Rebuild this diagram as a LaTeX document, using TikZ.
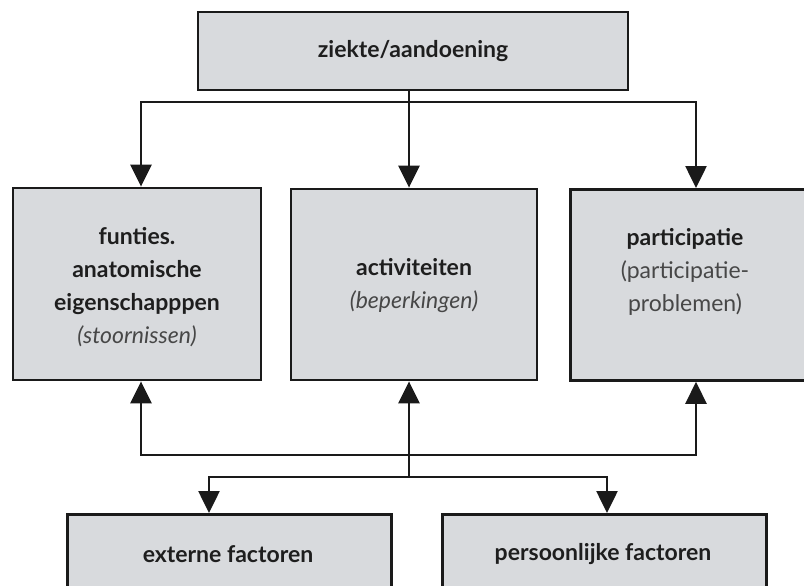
\documentclass[tikz,border=0pt]{standalone}
\usepackage{fontspec}
\setmainfont{Lato}
\usetikzlibrary{arrows.meta,calc}
\definecolor{boxfill}{HTML}{D8DADD}
\definecolor{boxline}{HTML}{1A1A1A}
\definecolor{txt}{HTML}{1E1E1E}
\definecolor{ital}{HTML}{474747}
\begin{document}
\begin{tikzpicture}[x=1pt,y=-1pt,
  box/.style={draw=boxline,line width=2.8pt,fill=boxfill},
  lbl/.style={align=center,text=txt,font=\fontsize{23}{33}\selectfont},
  conn/.style={draw=boxline,line width=2.6pt},
  arr/.style={conn,-{Triangle[length=22pt,width=21pt]}}]
\useasboundingbox (0,0) rectangle (804,586);
% boxes
\node[box,minimum width=430pt,minimum height=78pt] (top) at (413,51) {};
\node[box,minimum width=248pt,minimum height=192pt] (f) at (137,284) {};
\node[box,minimum width=246pt,minimum height=191pt] (a) at (414,284.5) {};
\node[box,minimum width=270pt,minimum height=191pt,anchor=north west] (p) at (569,188) {};
\node[box,minimum width=324pt,minimum height=100pt,anchor=north west] (ext) at (66,513) {};
\node[box,minimum width=324pt,minimum height=100pt,anchor=north west] (pers) at (441,513) {};
% texts
\node[lbl] (ttop) at (top.center) {\textbf{ziekte/aandoening}};
\node[lbl] (tf) at (137,287) {\textbf{funties.}\\\textbf{anatomische}\\\textbf{eigenschapppen}\\{\color{ital}\itshape(stoornissen)}};
\node[lbl] (ta) at (414,286) {\textbf{activiteiten}\\{\color{ital}\itshape(beperkingen)}};
\node[lbl] (tp) at (685,272) {\textbf{participatie}\\{\color{ital}(participatie-}\\{\color{ital}problemen)}};
\node[lbl] (text) at (228,554) {\textbf{externe factoren}};
\node[lbl] (tpers) at (603,554) {\textbf{persoonlijke factoren}};
% connectors from top
\coordinate (j1) at (409,102);
\coordinate (fl) at (141,0);
\coordinate (pl) at (696,0);
\draw[conn] (top.south -| j1) -- (j1);
\draw[arr] (j1) -| (f.north -| fl);
\draw[arr] (j1) -- (a.north -| j1);
\draw[arr] (j1) -| (p.north -| pl);
% bottom connectors
\coordinate (j2) at (409,455);
\coordinate (j3) at (409,477);
\coordinate (el) at (209,0);
\coordinate (pr) at (607,0);
\draw[arr] (j2) -| (f.south -| fl);
\draw[arr] (j2) -| (p.south -| pl);
\draw[arr] (j3) -- (a.south -| j3);
\draw[arr] (j3) -| (ext.north -| el);
\draw[arr] (j3) -| (pers.north -| pr);
\end{tikzpicture}
\end{document}
